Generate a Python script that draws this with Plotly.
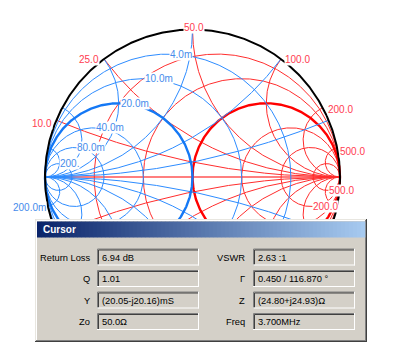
import numpy as np
import plotly.graph_objects as go

# ---------------- data (normalised to Z0 = 50 ohm) ----------------
R_CIRCLES = [0.2, 0.5, 1.0, 2.0, 4.0, 10.0]      # constant resistance
X_ARCS = [0.2, 0.5, 1.0, 2.0, 4.0, 10.0]         # constant reactance (+/-)
G_CIRCLES = [0.2, 0.5, 1.0, 2.0, 4.0, 10.0]      # constant conductance
B_ARCS = [0.2, 0.5, 1.0, 2.0, 4.0, 10.0]         # constant susceptance (+/-)

X_LABEL_VALUES = [0.2, 0.5, 1.0, 2.0, 4.0, 10.0]
X_LABELS = ["10.0", "25.0", "50.0", "100.0", "200.0", "500.0"]
R_LABEL_VALUES = [4.0, 10.0]
R_LABELS = ["200.0", "500.0"]
G_LABEL_VALUES = [0.2, 0.5, 1.0, 2.0, 4.0, 10.0]
G_LABELS = ["4.0m", "10.0m", "20.0m", "40.0m", "80.0m", "200."]
B_LABEL_VALUES = [10.0]
B_LABELS = ["200.0m"]

CURSOR_LEFT_NAMES = ["Return Loss", "Q", "Y", "Zo"]
CURSOR_LEFT_VALUES = ["6.94 dB", "1.01", "(20.05-j20.16)mS", "50.0Ω"]
CURSOR_RIGHT_NAMES = ["VSWR", "Γ", "Z", "Freq"]
CURSOR_RIGHT_VALUES = ["2.63 :1", "0.450 / 116.870 °", "(24.80+j24.93)Ω", "3.700MHz"]

# ---------------- layout geometry ----------------
W, H = 400, 361
CX, CY, SCALE = 192.5, 177.0, 147.5


def dx(px):
    return (px - CX) / SCALE


def dy(py):
    return (CY - py) / SCALE


def gz(z):
    return (z - 1) / (z + 1)


def gy(y):
    return (1 - y) / (1 + y)


ang = np.linspace(0, 2 * np.pi, 721)
u = np.tan(np.linspace(0, np.pi / 2 * 0.99999, 900))


def join(curves):
    xs, ys = [], []
    for c in curves:
        xs.extend(np.real(c).tolist() + [None])
        ys.extend(np.imag(c).tolist() + [None])
    return xs, ys


def r_circle(r):
    return r / (1 + r) + np.exp(1j * ang) / (1 + r)


def g_circle(g):
    return -g / (1 + g) + np.exp(1j * ang) / (1 + g)


red_thin, red_thick, blue_thin, blue_thick = [], [], [], []
for r in R_CIRCLES:
    (red_thick if r == 1.0 else red_thin).append(r_circle(r))
for x in X_ARCS:
    for s in (1, -1):
        red_thin.append(np.append(gz(u + 1j * s * x), 1 + 0j))
for g in G_CIRCLES:
    (blue_thick if g == 1.0 else blue_thin).append(g_circle(g))
for b in B_ARCS:
    for s in (1, -1):
        blue_thin.append(np.append(gy(u + 1j * s * b), -1 + 0j))

RED = "rgb(255,45,45)"
RED_T = "rgb(255,0,0)"
BLUE = "rgb(45,140,255)"
BLUE_T = "rgb(20,120,245)"

fig = go.Figure()


def add(curves, color, width):
    xs, ys = join(curves)
    fig.add_trace(go.Scatter(x=xs, y=ys, mode="lines",
                             line=dict(color=color, width=width),
                             hoverinfo="skip", showlegend=False))


# horizontal axis
add([np.array([-1 + 0j, 1 + 0j])], RED_T, 1.2)
add(red_thin, RED, 1)
add(red_thick, RED_T, 2.4)
add(blue_thin, BLUE, 1)
add(blue_thick, BLUE_T, 2.4)
add([np.exp(1j * ang)], "black", 2)

ann = []
LABEL_FONT = dict(family="Liberation Sans, Arial, sans-serif", size=10)
RED_TXT = "rgb(255,60,80)"
BLUE_TXT = "rgb(70,140,235)"

# reactance labels on the rim
X_LABEL_POS = [("right", -3, -3), ("right", -4, 0), ("center", 1.5, 2),
               ("left", 3, 0), ("left", 4, -2), ("left", 2, -4)]
for v, t, (xa, xs_, ys_) in zip(X_LABEL_VALUES, X_LABELS, X_LABEL_POS):
    p = gz(1j * v)
    ann.append(dict(x=p.real, y=p.imag, text=t, showarrow=False, xanchor=xa,
                    yanchor="middle", xshift=xs_, yshift=ys_, bgcolor="white",
                    borderpad=0, font=dict(color=RED_TXT, **LABEL_FONT)))
# resistance labels at circle bottoms
for v, t in zip(R_LABEL_VALUES, R_LABELS):
    ann.append(dict(x=v / (1 + v), y=-1 / (1 + v), text=t, showarrow=False,
                    xanchor="left", yanchor="middle", xshift=1, yshift=0,
                    bgcolor="white", borderpad=0,
                    font=dict(color=RED_TXT, **LABEL_FONT)))
# conductance labels at circle tops
for v, t in zip(G_LABEL_VALUES, G_LABELS):
    ann.append(dict(x=-v / (1 + v), y=1 / (1 + v), text=t, showarrow=False,
                    xanchor="left", yanchor="middle", xshift=1, yshift=0,
                    bgcolor="white", borderpad=0,
                    font=dict(color=BLUE_TXT, **LABEL_FONT)))
# susceptance labels on the rim
for v, t in zip(B_LABEL_VALUES, B_LABELS):
    p = gy(1j * v)
    ann.append(dict(x=p.real, y=p.imag, text=t, showarrow=False,
                    xanchor="right", yanchor="middle", xshift=-1, yshift=-1,
                    bgcolor="white", borderpad=0,
                    font=dict(color=BLUE_TXT, **LABEL_FONT)))

# ---------------- Cursor dialog ----------------
shapes = []


def rect(x0, y0, x1, y1, fill, line=None, lw=0):
    shapes.append(dict(type="rect", xref="x", yref="y", layer="above",
                       x0=dx(x0), x1=dx(x1), y0=dy(y0), y1=dy(y1),
                       fillcolor=fill,
                       line=dict(width=lw, color=line or fill)))


def seg(x0, y0, x1, y1, color, lw=1):
    shapes.append(dict(type="line", xref="x", yref="y", layer="above",
                       x0=dx(x0), x1=dx(x1), y0=dy(y0), y1=dy(y1),
                       line=dict(color=color, width=lw)))


DL, DT, DR, DB = 35, 219, 367, 342
GRAY = "#D4D0C8"
rect(DL, DT, DR, DB, GRAY)
seg(DL + 0.5, DT + 0.5, DR - 1, DT + 0.5, "#E8E6E0")
seg(DL + 0.5, DT + 0.5, DL + 0.5, DB - 1, "#E8E6E0")
seg(DL + 1.5, DT + 1.5, DR - 2, DT + 1.5, "white")
seg(DL + 1.5, DT + 1.5, DL + 1.5, DB - 2, "white")
seg(DR - 0.5, DT, DR - 0.5, DB, "#404040")
seg(DL, DB - 0.5, DR, DB - 0.5, "#404040")
seg(DR - 1.5, DT + 1, DR - 1.5, DB - 1, "#808080")
seg(DL + 1, DB - 1.5, DR - 1, DB - 1.5, "#808080")

# title bar gradient
TX0, TX1, TY0, TY1 = 37, 365, 221.5, 237.5
c0, c1 = np.array([10, 36, 106]), np.array([166, 202, 240])
N = 82
for i in range(N):
    f = i / (N - 1)
    c = (c0 + (c1 - c0) * f).astype(int)
    xa = TX0 + (TX1 - TX0) * i / N
    xb = TX0 + (TX1 - TX0) * (i + 1) / N + 0.3
    rect(xa, TY0, xb, TY1, "rgb(%d,%d,%d)" % tuple(c))
ann.append(dict(x=dx(40.5), y=dy((TY0 + TY1) / 2), text="<b>Cursor</b>",
                showarrow=False, xanchor="left", yanchor="middle",
                font=dict(family="Liberation Sans, Arial, sans-serif",
                          size=10, color="white")))

ROW_TOPS = [248.5, 270.0, 291.5, 313.0]
BOX_H = 17
COLS = [(97, 199, 92, CURSOR_LEFT_NAMES, CURSOR_LEFT_VALUES),
        (253, 355, 247, CURSOR_RIGHT_NAMES, CURSOR_RIGHT_VALUES)]
DLG_FONT = dict(family="Liberation Sans, Arial, sans-serif", size=9.3,
                color="black")
for bx0, bx1, lx, names, vals in COLS:
    for top, nm, vl in zip(ROW_TOPS, names, vals):
        bot = top + BOX_H
        seg(bx0 + 0.5, top + 0.5, bx1, top + 0.5, "#808080")
        seg(bx0 + 0.5, top + 0.5, bx0 + 0.5, bot, "#808080")
        seg(bx0 + 1.5, top + 1.5, bx1 - 1, top + 1.5, "#404040")
        seg(bx0 + 1.5, top + 1.5, bx0 + 1.5, bot - 1, "#404040")
        seg(bx0, bot - 0.5, bx1, bot - 0.5, "white")
        seg(bx1 - 0.5, top, bx1 - 0.5, bot, "white")
        yc = dy(top + BOX_H / 2 + 0.5)
        ann.append(dict(x=dx(lx), y=yc, text=nm, showarrow=False,
                        xanchor="right", yanchor="middle", font=DLG_FONT))
        ann.append(dict(x=dx(bx0 + 2.5), y=yc, text=vl, showarrow=False,
                        xanchor="left", yanchor="middle", font=DLG_FONT))

fig.update_layout(
    width=W, height=H, margin=dict(l=0, r=0, t=0, b=0),
    paper_bgcolor="white", plot_bgcolor="white",
    xaxis=dict(range=[dx(0), dx(W)], visible=False, fixedrange=True),
    yaxis=dict(range=[dy(H), dy(0)], visible=False, fixedrange=True),
    shapes=shapes, annotations=ann, showlegend=False,
    hovermode=False,
)
fig.write_html("out.html")
